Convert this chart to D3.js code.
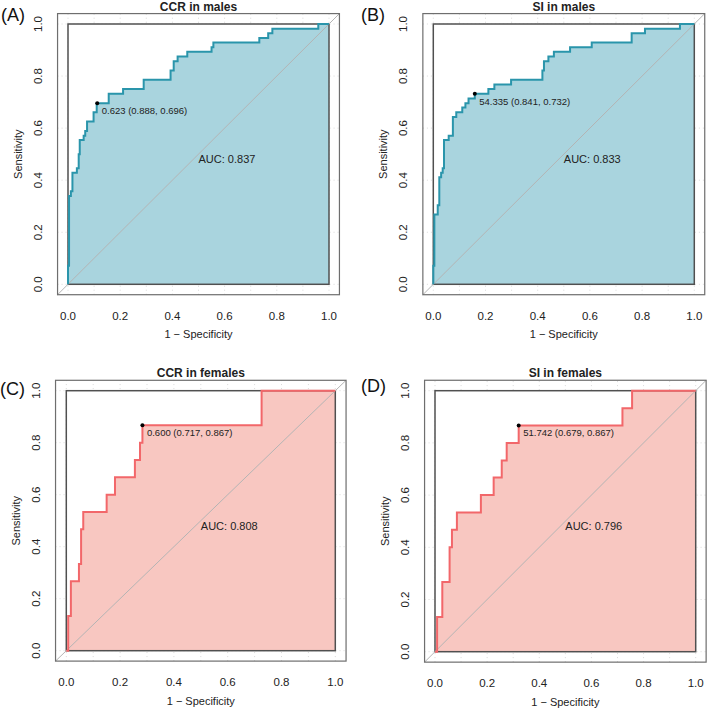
<!DOCTYPE html>
<html>
<head>
<meta charset="utf-8">
<script src="https://cdn.jsdelivr.net/npm/d3@7"></script>
<style>
  html, body { margin: 0; padding: 0; background: #fff; }
  svg { display: block; font-family: "Liberation Sans", Arial, sans-serif; }
</style>
</head>
<body>
<svg id="chart" width="709" height="711"></svg>
<script>
// ---------- data ----------
const panelLetters = ["(A)", "(B)", "(C)", "(D)"];
const panelTitles = ["CCR in males", "SI in males", "CCR in females", "SI in females"];
const aucLabels = ["AUC: 0.837", "AUC: 0.833", "AUC: 0.808", "AUC: 0.796"];

const ccrMaleFpr  = [0, 0, 0.004, 0.011, 0.017, 0.034, 0.041, 0.045, 0.060, 0.066, 0.073, 0.098, 0.110, 0.156, 0.211, 0.290, 0.393, 0.405, 0.420, 0.457, 0.550, 0.557, 0.733, 0.767, 0.783, 0.959, 1.0];
const ccrMaleSens = [0, 0.071, 0.339, 0.357, 0.429, 0.446, 0.500, 0.554, 0.571, 0.589, 0.625, 0.661, 0.696, 0.732, 0.750, 0.786, 0.821, 0.857, 0.875, 0.893, 0.911, 0.929, 0.946, 0.964, 0.982, 1.0, 1.0];

const siMaleFpr  = [0, 0, 0.004, 0.017, 0.023, 0.030, 0.036, 0.041, 0.059, 0.075, 0.088, 0.111, 0.123, 0.135, 0.159, 0.211, 0.234, 0.298, 0.418, 0.424, 0.441, 0.462, 0.524, 0.607, 0.760, 0.811, 0.945, 1.0];
const siMaleSens = [0, 0.071, 0.268, 0.304, 0.411, 0.429, 0.446, 0.554, 0.571, 0.643, 0.661, 0.679, 0.696, 0.714, 0.732, 0.750, 0.768, 0.786, 0.821, 0.857, 0.875, 0.893, 0.911, 0.929, 0.964, 0.982, 1.0, 1.0];

const ccrFemaleFpr  = [0, 0.007, 0.017, 0.047, 0.055, 0.063, 0.150, 0.181, 0.255, 0.274, 0.283, 0.726, 1.0];
const ccrFemaleSens = [0, 0.133, 0.267, 0.333, 0.467, 0.533, 0.600, 0.667, 0.733, 0.800, 0.867, 1.0, 1.0];

const siFemaleFpr  = [0, 0.008, 0.028, 0.056, 0.065, 0.084, 0.176, 0.225, 0.256, 0.275, 0.321, 0.719, 0.756, 1.0];
const siFemaleSens = [0, 0.133, 0.267, 0.400, 0.467, 0.533, 0.600, 0.667, 0.733, 0.800, 0.867, 0.933, 1.0, 1.0];

const thresholdFpr  = [0.112, 0.159, 0.283, 0.321];
const thresholdSens = [0.696, 0.732, 0.867, 0.867];
const thresholdLabels = ["0.623 (0.888, 0.696)", "54.335 (0.841, 0.732)", "0.600 (0.717, 0.867)", "51.742 (0.679, 0.867)"];

const tickValues = [0, 0.2, 0.4, 0.6, 0.8, 1.0];
const tickLabels = ["0.0", "0.2", "0.4", "0.6", "0.8", "1.0"];

const seriesFpr  = [ccrMaleFpr, siMaleFpr, ccrFemaleFpr, siFemaleFpr];
const seriesSens = [ccrMaleSens, siMaleSens, ccrFemaleSens, siFemaleSens];

// ---------- layout / styles ----------
const layout = [
  { x0: 68,    x1: 329,   y0: 284.3, y1: 24,    letterX: 1,   letterY: 20.7, line: "#2a95ab", fill: "#a9d4de" },
  { x0: 433.3, x1: 694.3, y0: 284.3, y1: 24,    letterX: 361, letterY: 20.7, line: "#2a95ab", fill: "#a9d4de" },
  { x0: 66.3,  x1: 335.3, y0: 650.7, y1: 390.7, letterX: 0,   letterY: 395,  line: "#f2676a", fill: "#f8c7c1" },
  { x0: 435,   x1: 695.7, y0: 651.7, y1: 390.7, letterX: 361, letterY: 392,  line: "#f2676a", fill: "#f8c7c1" }
];

const svg = d3.select("#chart");

layout.forEach((L, i) => {
  const x = d3.scaleLinear().domain([0, 1]).range([L.x0, L.x1]);
  const y = d3.scaleLinear().domain([0, 1]).range([L.y0, L.y1]);
  const g = svg.append("g");
  const pts = seriesFpr[i].map((f, k) => [f, seriesSens[i][k]]);

  const xo0 = x(-0.04), xo1 = x(1.04), yo0 = y(-0.04), yo1 = y(1.04);

  // grid (dotted)
  const grid = g.append("g").attr("stroke", "#d9d9d9").attr("stroke-width", 1).attr("stroke-dasharray", "1,3");
  d3.range(0, 11).forEach(k => {
    const v = k / 10;
    grid.append("line").attr("x1", x(v)).attr("x2", x(v)).attr("y1", yo0).attr("y2", yo1);
  });
  tickValues.forEach(v => {
    grid.append("line").attr("x1", xo0).attr("x2", xo1).attr("y1", y(v)).attr("y2", y(v));
  });

  // max-AUC polygon (white)
  g.append("rect").attr("x", x(0)).attr("y", y(1)).attr("width", x(1) - x(0)).attr("height", y(0) - y(1))
    .attr("fill", "#fff");

  // AUC polygon
  const area = d3.area().curve(d3.curveStepAfter)
    .x(d => x(d[0])).y0(y(0)).y1(d => y(d[1]));
  g.append("path").datum(pts).attr("d", area).attr("fill", L.fill);

  // max-AUC polygon border
  g.append("rect").attr("x", x(0)).attr("y", y(1)).attr("width", x(1) - x(0)).attr("height", y(0) - y(1))
    .attr("fill", "none").attr("stroke", "#505050").attr("stroke-width", 1.5);

  // diagonal
  g.append("line").attr("x1", xo0).attr("y1", yo0).attr("x2", xo1).attr("y2", yo1)
    .attr("stroke", "#b4b4b4").attr("stroke-width", 1);

  // ROC curve
  const line = d3.line().curve(d3.curveStepAfter).x(d => x(d[0])).y(d => y(d[1]));
  g.append("path").datum(pts).attr("d", line).attr("fill", "none")
    .attr("stroke", L.line).attr("stroke-width", 2).attr("stroke-linejoin", "miter");

  // outer box
  g.append("rect").attr("x", xo0).attr("y", yo1).attr("width", xo1 - xo0).attr("height", yo0 - yo1)
    .attr("fill", "none").attr("stroke", "#6e6e6e").attr("stroke-width", 1.2);

  // threshold point & label
  g.append("circle").attr("cx", x(thresholdFpr[i])).attr("cy", y(thresholdSens[i])).attr("r", 2).attr("fill", "#000");
  g.append("text").attr("x", x(thresholdFpr[i]) + 4.5).attr("y", y(thresholdSens[i]) + 11)
    .attr("font-size", 9.5).attr("fill", "#222").text(thresholdLabels[i]);

  // AUC text
  g.append("text").attr("x", x(0.5)).attr("y", y(0.5) + 9)
    .attr("font-size", 11).attr("fill", "#222").text(aucLabels[i]);

  // x tick labels
  tickValues.forEach((v, k) => {
    g.append("text").attr("x", x(v)).attr("y", L.y0 + 35.5).attr("text-anchor", "middle")
      .attr("font-size", 11.5).attr("fill", "#222").text(tickLabels[k]);
  });
  // y tick labels (rotated)
  tickValues.forEach((v, k) => {
    g.append("text").attr("transform", `translate(${L.x0 - 26},${y(v)}) rotate(-90)`)
      .attr("text-anchor", "middle").attr("font-size", 11.5).attr("fill", "#222").text(tickLabels[k]);
  });

  // axis titles
  g.append("text").attr("x", x(0.5)).attr("y", L.y0 + 54).attr("text-anchor", "middle")
    .attr("font-size", 11).attr("fill", "#222").text("1 \u2212 Specificity");
  g.append("text").attr("transform", `translate(${L.x0 - 46},${y(0.5)}) rotate(-90)`)
    .attr("text-anchor", "middle").attr("font-size", 11).attr("fill", "#222").text("Sensitivity");

  // title
  g.append("text").attr("x", x(0.5)).attr("y", L.y1 - 13.3).attr("text-anchor", "middle")
    .attr("font-size", 12).attr("font-weight", "bold").attr("fill", "#222").text(panelTitles[i]);

  // panel letter
  g.append("text").attr("x", L.letterX).attr("y", L.letterY)
    .attr("font-size", 18).attr("fill", "#111").text(panelLetters[i]);
});
</script>
</body>
</html>
